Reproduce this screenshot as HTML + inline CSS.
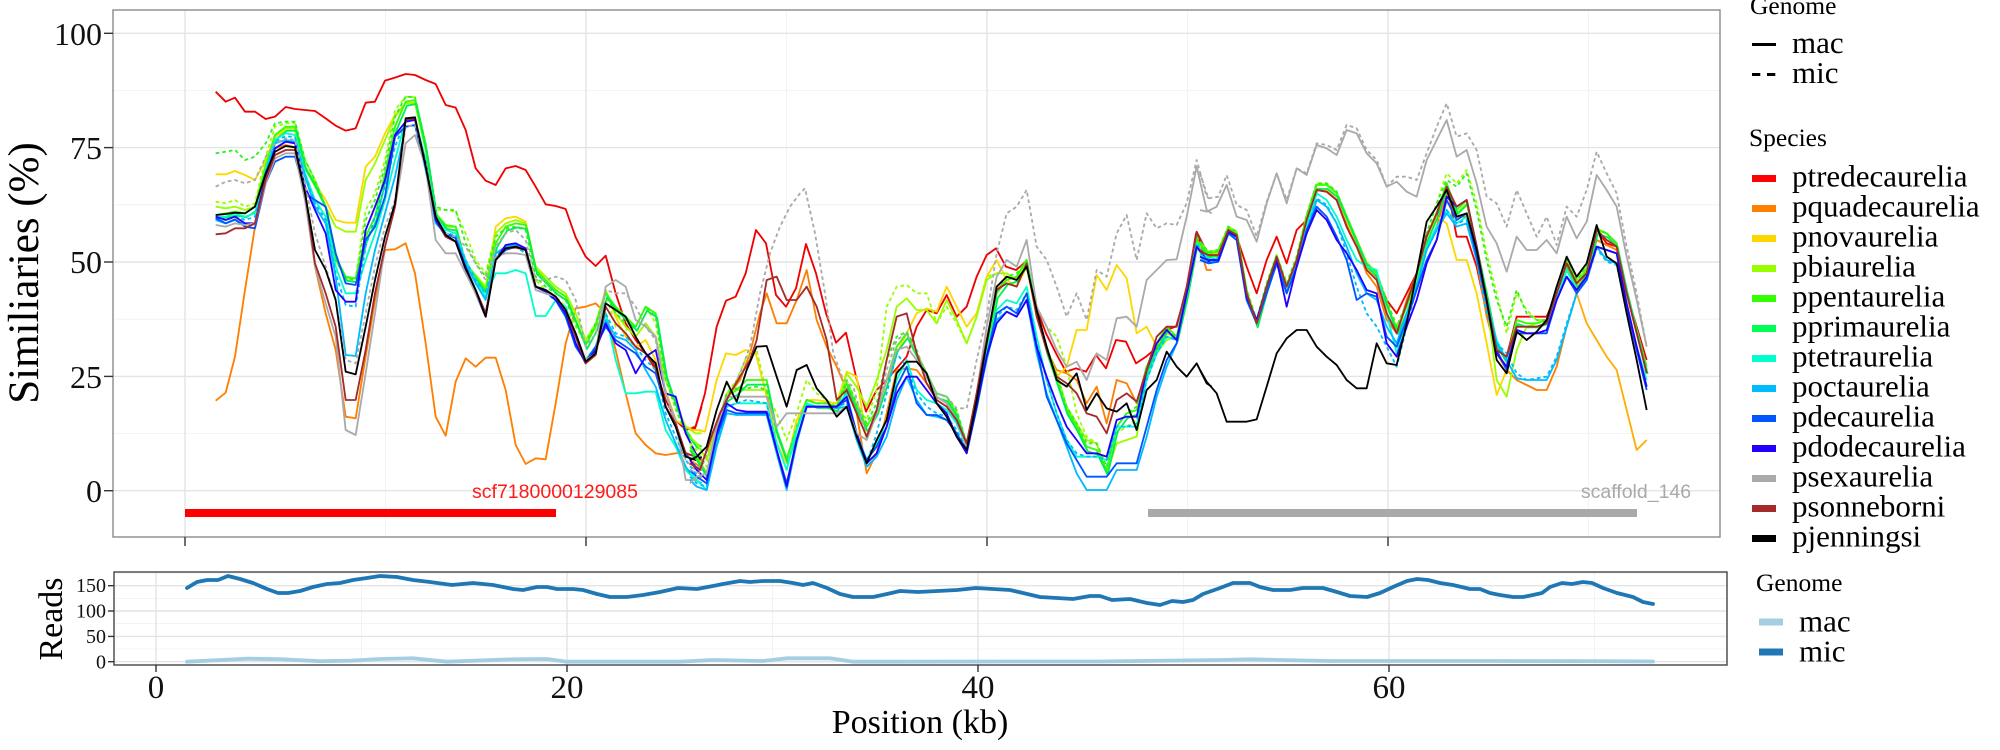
<!DOCTYPE html>
<html><head><meta charset="utf-8">
<style>
html,body{margin:0;padding:0;background:#fff;}
svg{display:block;}
.serif{font-family:"Liberation Serif","DejaVu Serif",serif;}
.sans{font-family:"Liberation Sans","DejaVu Sans",sans-serif;}
</style></head>
<body>
<svg width="2000" height="750" viewBox="0 0 2000 750" xmlns="http://www.w3.org/2000/svg">
<defs>
<clipPath id="cp"><rect x="113" y="10" width="1607" height="527"/></clipPath>
<clipPath id="cp2"><rect x="114" y="572" width="1613" height="93"/></clipPath>
<polyline id="G7" points="107,465 137,460 165,455 195,460 225,440 257,320 285,225 317,200 345,200 375,320 405,370 437,440 467,590 497,650 527,655 557,530 585,470 615,340 645,200 677,125 705,120 737,265 767,460 797,495 827,500 857,610 887,650 917,690 947,550 977,500 1007,490 1037,495 1067,630 1097,660 1127,690 1157,710 1187,780 1217,855 1247,800 1277,700 1307,740 1337,770 1367,800 1397,740 1427,760 1457,940 1487,1030 1517,1110 1547,1150 1565,1160"/>
<polyline id="G8" points="0,1160 20,1190 50,1240 80,1110 110,1010 140,990 170,960 200,960 230,960 260,1110 290,1195 320,1110 350,1020 380,1030 410,1030 440,1040 470,970 500,1040 530,1100 560,1050 590,960 620,860 650,820 680,880 710,940 740,1000 770,1010 800,1060 830,1150 860,1020 890,860 920,700 950,660 980,650 1010,600 1040,760 1070,870 1100,960 1130,1050 1160,1100 1190,1160 1220,1170 1250,1230 1280,1100 1310,1060 1340,1050 1370,920 1400,850 1430,800 1460,830 1490,700 1520,540 1550,580 1565,590"/>
<polyline id="G9" points="0,550 25,580 55,575 85,505 110,520 140,700 170,790 200,680 230,590 260,680 290,600 320,470 350,375 380,375 410,400 440,470 470,540 500,610 530,640 560,730 590,810 620,740 650,650 680,530 710,460 740,370 770,450 800,420 830,560 860,700 890,850 920,900 950,780 980,790 1010,790 1040,780 1070,700 1100,610 1130,670 1160,630 1190,510 1220,520 1250,550 1280,690 1310,810 1340,930"/>
</defs>
<rect x="0" y="0" width="2000" height="750" fill="#fff"/>

<!-- TOP PANEL GRID -->
<g stroke="#f0f0f0" stroke-width="0.8">
<line x1="113" x2="1720" y1="433.5" y2="433.5"/><line x1="113" x2="1720" y1="319.2" y2="319.2"/>
<line x1="113" x2="1720" y1="204.8" y2="204.8"/><line x1="113" x2="1720" y1="90.5" y2="90.5"/>
<line x1="385.5" x2="385.5" y1="10" y2="537"/><line x1="786.5" x2="786.5" y1="10" y2="537"/>
<line x1="1187.5" x2="1187.5" y1="10" y2="537"/><line x1="1588.5" x2="1588.5" y1="10" y2="537"/>
</g>
<g stroke="#e4e4e4" stroke-width="1.4">
<line x1="113" x2="1720" y1="490.7" y2="490.7"/><line x1="113" x2="1720" y1="376.4" y2="376.4"/>
<line x1="113" x2="1720" y1="262" y2="262"/><line x1="113" x2="1720" y1="147.6" y2="147.6"/>
<line x1="113" x2="1720" y1="33.3" y2="33.3"/>
<line x1="185" x2="185" y1="10" y2="537"/><line x1="586" x2="586" y1="10" y2="537"/>
<line x1="987" x2="987" y1="10" y2="537"/><line x1="1388" x2="1388" y1="10" y2="537"/>
</g>

<!-- TOP PANEL DATA -->
<g clip-path="url(#cp)">
<g transform="scale(0.333333)" fill="none" stroke-width="5.5" stroke-linejoin="round">
<!-- zoom7 region -->
<g transform="translate(540,180)">
<polyline stroke="#f00000" points="107,95 137,125 165,113 195,155 225,155 257,177 285,170 317,141 345,147 375,150 405,153 437,175 467,197 497,212 527,205 557,128 585,125 615,62 645,53 677,42 705,45 737,60 767,72 797,135 827,143 857,210 887,325 917,362 947,375 977,325 1007,318 1037,330 1067,380 1097,433 1127,438 1157,447 1187,532 1217,590 1247,618 1277,587 1307,700 1337,790 1367,840 1397,880 1427,930 1457,1020 1487,1080 1517,1110 1547,1100 1565,1040"/>
<polyline stroke="#ff7f00" points="107,1022 137,998 165,890 195,690 225,500 257,345 285,265 317,255 345,262 375,395 405,620 437,760 467,870 497,1070 527,1075 557,890 585,720 615,570 645,568 677,550 705,640 737,850 767,1070 797,1127 827,965 857,895 887,920 917,893 947,893 977,990 1007,1155 1037,1212 1067,1195 1097,1198 1127,1030 1157,850 1187,745 1217,740 1247,730 1277,760 1307,870 1337,1000 1367,1120 1397,1155 1427,1180 1457,1185 1487,1180 1517,1178 1547,1190 1565,1200"/>
<polyline stroke="#ffd700" points="107,343 137,343 165,333 195,345 225,360 257,300 285,230 317,212 345,212 375,320 405,370 437,420 467,480 497,488 527,488 557,320 585,290 615,220 645,165 677,130 705,128 737,265 767,470 797,500 827,500 857,620 887,655 917,695 947,500 977,475 1007,470 1037,485 1067,620 1097,660 1127,690 1157,710 1187,760 1217,840 1247,800 1277,690 1307,770 1337,830 1367,860 1397,840 1427,900 1457,990 1487,1080 1517,1100 1547,1110 1565,1110"/>
<polyline stroke="#99ff00" points="107,440 137,445 165,440 195,450 225,440 257,310 285,225 317,205 345,205 375,320 405,380 437,440 467,500 497,515 527,515 557,360 585,310 615,240 645,170 677,130 705,130 737,270 767,470 797,500 827,500 857,610 887,645 917,680 947,520 977,490 1007,480 1037,490 1067,620 1097,650 1127,680 1157,700 1187,760 1217,840 1247,790 1277,690 1307,760 1337,800 1367,830 1397,790 1427,830 1457,960 1487,1030 1517,1100 1547,1120 1565,1120"/>
<polyline stroke="#99ff00" stroke-dasharray="11 9" points="107,425 137,430 165,420 195,440 225,430 257,290 285,200 317,190 345,190 375,300 405,360 437,440 467,600 497,655 527,655 557,450 585,400 615,300 645,150 677,110 705,112 737,250 767,450 797,450 827,455 857,520 887,600 917,640 947,520 977,510 1007,505 1037,505 1067,660 1097,690 1127,710 1157,740 1187,800 1217,850 1247,790 1277,700 1307,800 1337,810 1367,800 1397,740 1427,790 1457,950 1487,1050 1517,1120 1547,1150 1565,1160"/>
<use href="#G7" stroke="#33ff00"/>
<polyline stroke="#33ee22" stroke-dasharray="11 9" points="107,280 137,275 165,270 195,300 225,290 257,250 285,190 317,185 345,185 375,300 405,360 437,440 467,600 497,655 527,660 557,480 585,420 615,320 645,170 677,110 705,112 737,250 767,440 797,450 827,450 857,550 887,610 917,650 947,530 977,505 1007,500 1037,510 1067,650 1097,680 1127,700 1157,720 1187,790 1217,850 1247,790 1277,700 1307,760 1337,790 1367,800 1397,740 1427,770 1457,960 1487,1040 1517,1120 1547,1150 1565,1160"/>
<use href="#G7" stroke="#00ee55" transform="translate(4,12)"/>
<polyline stroke="#00ffcc" points="107,470 137,470 165,460 195,470 225,460 257,330 285,240 317,220 345,225 375,340 405,420 437,470 467,620 497,700 527,700 557,600 585,520 615,420 645,300 677,180 705,175 737,300 767,470 797,510 827,520 857,600 887,660 917,710 947,640 977,640 1007,630 1037,640 1067,768 1097,768 1127,720 1157,740 1187,830 1217,900 1247,860 1277,760 1307,900 1337,1000 1367,1000 1397,995 1427,995 1457,1110 1487,1160 1517,1230 1547,1260 1565,1270"/>
<polyline stroke="#00bbff" points="107,480 137,490 165,480 195,495 225,490 257,340 285,250 317,240 345,245 375,350 405,440 437,490 467,650 497,885 527,888 557,700 585,570 615,460 645,350 677,200 705,195 737,330 767,490 797,520 827,530 857,610 887,670 917,720 947,580 977,560 1007,555 1037,570 1067,680 1097,695 1127,720 1157,770 1187,850 1217,910 1247,870 1277,780 1307,830 1337,840 1367,870 1397,930 1427,980 1457,1080 1487,1150 1517,1220 1547,1260 1565,1270"/>
<polyline stroke="#00bbff" stroke-dasharray="11 9" points="107,475 137,480 165,470 195,480 225,470 257,335 285,245 317,228 345,232 375,345 405,430 437,480 467,640 497,735 527,740 557,560 585,470 615,380 645,260 677,180 705,178 737,320 767,480 797,520 827,525 857,600 887,660 917,700 947,590 977,560 1007,560 1037,580 1067,690 1097,700 1127,720 1157,760 1187,850 1217,900 1247,860 1277,760 1307,820 1337,830 1367,860 1397,900 1427,930 1457,1060 1487,1130 1517,1200 1547,1240 1565,1250"/>
<polyline stroke="#0055ff" points="107,475 137,490 165,478 195,500 225,505 257,370 285,305 317,290 345,290 375,400 405,420 437,440 467,580 497,670 527,675 557,540 585,500 615,410 645,230 677,200 705,195 737,320 767,480 797,520 827,535 857,620 887,690 917,760 947,600 977,570 1007,560 1037,570 1067,680 1097,690 1127,720 1157,770 1187,860 1217,905 1247,860 1277,800 1307,840 1337,860 1367,880 1397,920 1427,940 1457,1040 1487,1100 1517,1180 1547,1220 1565,1230"/>
<polyline stroke="#2200ff" points="107,470 137,480 165,470 195,490 225,490 257,350 285,265 317,245 345,250 375,380 405,450 437,520 467,690 497,725 527,725 557,510 585,440 615,360 645,225 677,185 705,180 737,310 767,480 797,530 827,545 857,630 887,700 917,770 947,600 977,555 1007,550 1037,565 1067,680 1097,695 1127,720 1157,760 1187,850 1217,910 1247,870 1277,790 1307,850 1337,870 1367,940 1397,890 1427,870 1457,1000 1487,1010 1517,1120 1547,1180 1565,1200"/>
<polyline stroke="#aaaaaa" points="107,495 137,500 165,490 195,495 225,490 257,370 285,295 317,280 345,280 375,420 405,620 437,730 467,830 497,1110 527,1125 557,940 585,760 615,560 645,440 677,250 705,225 737,320 767,540 797,580 827,580 857,640 887,700 917,765 947,590 977,580 1007,580 1037,585 1067,690 1097,700 1127,710 1157,750 1187,820 1217,900 1247,880 1277,680 1307,660 1337,680 1367,780 1397,800 1427,830 1457,1000 1487,1080 1517,1260 1547,1260 1565,1250"/>
<polyline stroke="#aaaaaa" stroke-dasharray="11 9" points="107,380 137,365 165,360 195,370 225,360 257,290 285,250 317,235 345,240 375,370 405,520 437,620 467,720 497,900 527,910 557,760 585,620 615,500 645,420 677,200 705,195 737,310 767,470 797,520 827,530 857,560 887,610 917,660 947,560 977,520 1007,510 1037,540 1067,660 1097,660 1127,650 1157,660 1187,720 1217,860 1247,820 1277,690 1307,700 1337,700 1367,740 1397,800 1427,840 1457,1000 1487,1100 1517,1200 1547,1230 1565,1230"/>
<polyline stroke="#a52a2a" points="107,523 137,520 165,505 195,505 225,490 257,360 285,285 317,270 345,270 375,395 405,610 437,700 467,800 497,1020 527,1020 557,870 585,700 615,560 645,440 677,180 705,175 737,320 767,470 797,530 827,545 857,625 887,690 917,760 947,600 977,565 1007,563 1037,570 1067,680 1097,690 1127,710 1157,750 1187,830 1217,910 1247,885 1277,740 1307,790 1337,820 1367,860 1397,880 1427,920 1457,1040 1487,1090 1517,1180 1547,1190 1565,1200"/>
<polyline stroke="#000000" points="107,465 137,462 165,458 195,460 225,440 257,340 285,275 317,258 345,262 375,400 405,570 437,630 467,720 497,935 527,943 557,800 585,660 615,530 645,430 677,175 705,172 737,320 767,470 797,525 827,545 857,625 887,690 917,770 947,600 977,565 1007,560 1037,570 1067,680 1097,690 1127,710 1157,750 1187,820 1217,905 1247,880 1277,730 1307,750 1337,770 1367,830 1397,880 1427,910 1457,1040 1487,1100 1517,1190 1547,1200 1565,1190"/>
</g>
<!-- zoom8 region -->
<g transform="translate(2070,180)">
<polyline stroke="#f00000" points="0,1110 15,1105 45,1000 80,800 108,722 137,710 167,640 198,510 228,550 258,705 288,740 318,685 348,552 378,640 408,760 438,848 468,818 498,950 528,1055 560,990 590,960 620,925 650,890 680,800 710,750 740,760 770,705 800,770 830,740 860,650 890,585 918,565 948,620 978,630 1008,605 1038,740 1068,820 1098,880 1128,935 1158,925 1188,935 1218,885 1248,925 1278,840 1308,845 1338,910 1368,890 1398,865 1428,810 1458,800 1488,700 1518,520 1548,580 1565,590"/>
<polyline stroke="#ff7f00" points="0,1200 30,1220 60,1150 90,1060 120,1000 150,960 180,880 210,760 230,700 260,790 290,790 320,720 350,630 380,780 410,860 440,920 470,990 500,1060 530,1240 560,1180 590,1060 620,930 650,925 680,930 710,970 740,1010 770,1030 800,1090 830,1160 860,1000 890,840 920,690 950,660 980,650 1010,620 1040,760 1070,870 1100,930 1130,940 1160,960 1190,1030 1220,980 1250,1090 1280,960 1310,970 1340,1030 1370,920 1400,870 1430,820 1460,830 1490,700 1520,530 1550,630 1565,630"/>
<polyline stroke="#ffd700" points="0,1110 20,1110 45,1115 80,960 108,880 137,885 167,870 197,880 215,950 230,1010 260,1150 290,1210 320,1080 350,1020 380,1020 410,1025 440,1030 470,935 500,950 530,1140 560,1060 590,960 620,880 650,820 680,760 710,745 740,755 770,680 800,740 830,800 860,760 890,650 920,600 950,660 980,680 1010,620 1040,770 1070,860 1100,950 1130,920 1160,810 1190,810 1220,645 1250,690 1280,615 1310,655 1340,820 1370,800 1400,860 1430,820 1460,830 1490,700 1520,540 1550,590 1565,600"/>
<polyline stroke="#99ff00" points="0,1130 20,1150 50,1200 80,1100 110,1000 140,990 170,990 200,990 230,990 260,1120 290,1200 320,1100 350,1020 380,1030 410,1030 440,1040 470,940 500,980 530,1040 560,960 590,870 620,740 650,715 680,750 710,750 740,790 770,720 800,780 830,850 860,770 890,660 920,640 950,640 980,660 1010,600 1040,760 1070,870 1100,940 1130,1040 1160,1090 1190,1140 1220,1150 1250,1240 1280,1150 1310,1140 1340,1130 1370,940 1400,880 1430,840 1460,830 1490,700 1520,540 1550,580 1565,590"/>
<polyline stroke="#99ff00" stroke-dasharray="11 9" points="0,1150 20,1170 50,1220 80,1100 110,1000 140,960 170,890 200,870 230,1000 260,1060 290,1140 320,1060 350,960 380,1000 410,1020 440,1040 470,960 500,1030 530,1080 560,990 590,740 620,680 650,675 680,700 710,700 740,790 770,740 800,790 830,850 860,770 890,650 920,640 950,640 980,660 1010,600 1040,740 1070,800 1100,830 1130,920 1160,1060 1190,1130 1220,1150 1250,1220 1280,1120 1310,1100 1340,1080 1370,930 1400,870 1430,830 1460,830 1490,700 1520,540 1550,580 1565,590"/>
<use href="#G8" stroke="#33ff00"/>
<polyline stroke="#33ee22" stroke-dasharray="11 9" points="0,1170 20,1200 50,1240 80,1110 110,1000 140,985 170,985 200,980 230,990 260,1120 290,1200 320,1100 350,1020 380,1030 410,1030 440,1040 470,960 500,1030 530,1090 560,1030 590,900 620,830 650,815 680,870 710,950 740,1000 770,1010 800,1050 830,1150 860,1010 890,850 920,700 950,650 980,640 1010,600 1040,760 1070,860 1100,950 1130,1040 1160,1090 1190,1150 1220,1150 1250,1220 1280,1100 1310,1060 1340,1040 1370,920 1400,860 1430,810 1460,830 1490,700 1520,530 1550,580 1565,590"/>
<use href="#G8" stroke="#00ee55" transform="translate(3,14)"/>
<polyline stroke="#00ffcc" points="0,1240 20,1260 50,1290 80,1150 110,1040 140,1030 170,1030 200,1030 230,1030 260,1150 290,1230 320,1110 350,1030 380,1040 410,1040 440,1040 470,1000 500,1120 530,1200 560,1150 590,1080 620,960 650,900 680,990 710,1020 740,1030 770,1050 800,1090 830,1160 860,1030 890,880 920,750 950,720 980,730 1010,680 1040,830 1070,960 1100,1060 1130,1140 1160,1190 1190,1190 1220,1190 1250,1200 1280,1100 1310,1100 1340,1100 1370,960 1400,880 1430,830 1460,840 1490,700 1520,550 1550,590 1565,600"/>
<polyline stroke="#00bbff" points="0,1260 20,1280 50,1290 80,1160 110,1060 140,1065 170,1065 200,1065 230,1065 260,1180 290,1290 320,1150 350,1040 380,1040 410,1040 440,1045 470,1040 500,1140 530,1220 560,1190 590,1130 620,1020 650,950 680,1020 710,1065 740,1070 770,1080 800,1120 830,1180 860,1040 890,900 920,780 950,755 980,770 1010,720 1040,880 1070,1000 1100,1080 1130,1160 1160,1240 1190,1290 1220,1290 1250,1290 1280,1230 1310,1230 1340,1230 1370,1130 1400,1010 1430,920 1460,850 1490,700 1520,560 1550,600 1565,610"/>
<polyline stroke="#00bbff" stroke-dasharray="11 9" points="0,1250 20,1270 50,1280 80,1150 110,1040 140,1030 170,1020 200,1025 230,1030 260,1170 290,1280 320,1140 350,1040 380,1040 410,1040 440,1040 470,1030 500,1130 530,1210 560,1120 590,1000 620,880 650,920 680,1000 710,1040 740,1060 770,1070 800,1110 830,1170 860,1030 890,890 920,770 950,740 980,750 1010,700 1040,850 1070,960 1100,1060 1130,1140 1160,1180 1190,1190 1220,1190 1250,1200 1280,1100 1310,1100 1340,1090 1370,960 1400,880 1430,830 1460,840 1490,700 1520,550 1550,600 1565,600"/>
<polyline stroke="#0055ff" points="0,1230 20,1250 50,1270 80,1130 110,1050 140,1060 170,1060 200,1060 230,1060 260,1170 290,1270 320,1140 350,1040 380,1040 410,1040 440,1040 470,1020 500,1130 530,1200 560,1160 590,1100 620,980 650,920 680,1030 710,1065 740,1065 770,1080 800,1120 830,1170 860,1030 890,890 920,760 950,740 980,760 1010,700 1040,860 1070,1010 1100,1080 1130,1150 1160,1200 1190,1250 1220,1250 1250,1250 1280,1210 1310,1210 1340,1210 1370,1100 1400,990 1430,900 1460,850 1490,700 1520,560 1550,600 1565,610"/>
<polyline stroke="#2200ff" points="0,1200 20,1230 50,1260 80,1120 110,1030 140,1050 170,1055 200,1055 230,1055 260,1170 290,1280 320,1140 350,1040 380,1040 410,1040 440,1040 470,1010 500,1120 530,1210 560,1180 590,1100 620,1000 650,950 680,950 710,990 740,1030 770,1060 800,1130 830,1180 860,1040 890,890 920,790 950,755 980,770 1010,720 1040,860 1070,950 1100,1030 1130,1100 1160,1140 1190,1180 1220,1180 1250,1190 1280,1080 1310,1070 1340,1070 1370,930 1400,850 1430,810 1460,840 1490,700 1520,560 1550,600 1565,610"/>
<polyline stroke="#aaaaaa" points="0,1270 20,1250 50,1240 80,1100 110,1010 140,1010 170,1010 200,1010 230,1010 260,1100 290,1060 320,1060 350,1060 380,1060 410,1060 440,1060 470,1040 500,1120 530,1140 560,1060 590,960 620,870 650,860 680,900 710,950 740,1010 770,1030 800,1080 830,1160 860,1000 890,800 920,650 950,600 980,620 1010,540 1040,740 1070,800 1100,870 1130,920 1160,905 1190,960 1220,880 1250,900 1280,775 1310,770 1340,800 1370,660 1400,630 1430,600 1460,598 1490,470 1520,320 1550,450 1565,460"/>
<polyline stroke="#aaaaaa" stroke-dasharray="11 9" points="0,1230 30,1240 60,1150 90,1060 120,1000 150,940 180,860 210,700 240,580 270,500 300,440 330,400 345,385 375,520 405,700 430,880 460,960 490,980 530,1130 560,1050 590,930 620,840 650,820 680,880 710,940 740,1000 770,1010 800,1045 830,1045 860,900 890,770 920,580 950,460 980,440 1010,390 1040,560 1070,600 1100,680 1130,770 1160,700 1190,780 1220,630 1250,650 1280,520 1310,465 1340,600 1370,460 1400,505 1430,490 1460,495 1490,430 1520,300 1550,410 1565,420"/>
<polyline stroke="#a52a2a" points="0,1210 30,1230 60,1140 90,1060 120,1000 150,950 180,900 200,840 230,660 260,650 290,720 320,720 350,680 380,740 410,840 440,1020 470,990 500,1060 530,1130 560,1050 590,900 620,770 650,760 680,880 710,970 740,1020 770,1040 800,1080 830,1150 860,1000 890,840 920,690 950,670 980,680 1010,610 1040,770 1070,870 1100,950 1130,970 1160,1000 1190,1060 1220,1070 1250,1120 1280,1020 1310,1000 1340,1025 1370,930 1400,830 1430,800 1460,800 1490,680 1520,515 1550,575 1565,585"/>
<polyline stroke="#000000" points="0,1200 20,1190 50,1160 80,1050 110,965 140,1025 170,930 200,860 230,858 260,950 290,1040 320,930 350,915 380,985 410,1020 440,1070 470,1040 500,1130 530,1210 560,1140 590,1080 620,940 650,905 680,905 710,940 740,1030 770,1070 800,1130 830,1170 860,1020 890,850 920,680 950,650 980,660 1010,620 1040,750 1070,860 1100,960 1130,980 1160,940 1190,1050 1220,1000 1250,1045 1280,1055 1310,1030 1340,1110 1370,990 1400,960 1430,875 1460,920 1490,950 1520,910 1550,970 1565,980"/>
</g>
<!-- zoom9 region -->
<g transform="translate(3600,180)">
<polyline stroke="#f00000" points="0,570 25,585 55,590 85,520 110,530 140,620 170,700 200,600 230,530 260,610 290,510 320,480 350,390 380,395 410,420 440,500 470,560 500,620 530,650 560,720 590,760 620,700 650,640 680,520 710,480 740,370 770,530 800,530 830,620 860,760 890,870 920,890 950,770 980,770 1010,770 1040,770 1070,700 1100,600 1130,680 1160,640 1190,510 1220,550 1250,560 1280,700 1310,800 1340,900"/>
<polyline stroke="#ff7f00" points="0,600 25,600 55,600 85,520 110,530 140,700 170,790 200,680 230,590 260,680 290,600 320,470 350,385 380,390 410,420 440,490 470,560 500,640 530,680 560,780 590,820 620,720 650,640 680,560 710,500 740,400 770,470 800,470 830,600 860,770 890,880 920,930 950,960 980,975 1010,990 1040,990 1070,920 1100,800 1130,700 1160,640 1190,540 1220,555 1250,570 1280,690 1310,810 1340,920"/>
<polyline stroke="#ffd700" points="0,560 25,585 55,580 85,505 110,525 140,700 170,790 200,680 230,590 260,680 290,600 320,470 350,385 380,390 410,420 440,480 470,560 500,620 530,660 560,740 590,800 620,740 650,650 680,530 710,470 740,490 770,600 800,600 830,700 860,850 890,1005 920,930 950,800 980,800 1010,800 1040,790 1070,700 1100,620 1130,680 1160,640 1190,510 1220,540 1250,560 1280,700 1310,820 1340,930"/>
<polyline stroke="#ffae00" points="1070,690 1100,615 1130,700 1160,790 1190,840 1220,890 1250,930 1280,1050 1310,1170 1340,1140"/>
<polyline stroke="#99ff00" points="0,545 25,575 55,570 85,500 110,515 140,690 170,785 200,675 230,585 260,675 290,595 320,465 350,372 380,372 410,398 440,468 470,538 500,608 530,638 560,728 590,808 620,738 650,648 680,528 710,458 740,390 770,460 800,430 830,570 860,720 890,960 920,1010 950,870 980,800 1010,790 1040,780 1070,700 1100,610 1130,670 1160,630 1190,508 1220,520 1250,550 1280,690 1310,810 1340,930"/>
<polyline stroke="#99ff00" stroke-dasharray="11 9" points="0,545 25,575 55,570 85,500 110,515 140,690 170,780 200,670 230,585 260,670 290,590 320,465 350,370 380,370 410,395 440,470 470,540 500,610 530,640 560,720 590,800 620,730 650,640 680,520 710,430 740,340 770,370 800,330 830,430 860,580 890,700 920,820 950,700 980,750 1010,780 1040,780 1070,700 1100,600 1130,660 1160,620 1190,505 1220,520 1250,550 1280,690 1310,810 1340,920"/>
<use href="#G9" stroke="#33ff00"/>
<polyline stroke="#33ee22" stroke-dasharray="11 9" points="0,545 25,575 55,570 85,500 110,515 140,690 170,780 200,670 230,585 260,670 290,590 320,465 350,370 380,370 410,395 440,470 470,540 500,610 530,640 560,720 590,800 620,730 650,640 680,520 710,430 740,360 770,380 800,340 830,450 860,600 890,720 920,800 950,690 980,760 1010,780 1040,780 1070,700 1100,600 1130,660 1160,620 1190,505 1220,520 1250,550 1280,690 1310,810 1340,920"/>
<use href="#G9" stroke="#00ee55" transform="translate(3,12)"/>
<polyline stroke="#00ffcc" points="0,585 25,600 55,595 85,515 110,530 140,710 170,780 200,690 230,600 260,690 290,610 320,500 350,400 380,420 410,470 440,540 470,600 500,620 530,630 560,760 590,880 620,780 650,680 680,560 710,500 740,450 770,490 800,470 830,570 860,720 890,840 920,900 950,800 980,800 1010,800 1040,790 1070,710 1100,630 1130,690 1160,650 1190,560 1220,600 1250,610 1280,740 1310,860 1340,960"/>
<polyline stroke="#00bbff" points="0,590 25,610 55,600 85,520 110,540 140,720 170,790 200,700 230,610 260,700 290,620 320,520 350,420 380,440 410,490 440,560 470,640 500,700 530,720 560,800 590,850 620,760 650,680 680,570 710,510 740,460 770,500 800,490 830,600 860,720 890,850 920,900 950,955 980,960 1010,960 1040,960 1070,900 1100,800 1130,700 1160,660 1190,560 1220,600 1250,610 1280,740 1310,860 1340,980"/>
<polyline stroke="#00bbff" stroke-dasharray="11 9" points="0,580 25,600 55,595 85,515 110,535 140,715 170,785 200,695 230,605 260,695 290,615 320,515 350,415 380,435 410,490 440,580 470,680 500,760 530,800 560,860 590,920 620,800 650,680 680,570 710,510 740,450 770,490 800,480 830,600 860,760 890,850 920,880 950,940 980,960 1010,955 1040,950 1070,890 1100,790 1130,700 1160,660 1190,565 1220,605 1250,615 1280,745 1310,860 1340,980"/>
<polyline stroke="#0055ff" points="0,600 25,610 55,605 85,520 110,540 140,720 170,790 200,700 230,610 260,700 290,620 320,510 350,440 380,470 410,530 440,600 470,720 500,700 530,710 560,830 590,860 620,780 650,690 680,600 710,540 740,420 770,480 800,460 830,590 860,730 890,870 920,930 950,820 980,820 1010,820 1040,820 1070,720 1100,650 1130,700 1160,660 1190,560 1220,570 1250,580 1280,740 1310,870 1340,990"/>
<polyline stroke="#2200ff" points="0,590 25,600 55,600 85,515 110,530 140,710 170,780 200,680 230,600 260,740 290,620 320,520 350,450 380,480 410,540 440,580 470,630 500,690 530,700 560,850 590,890 620,800 650,720 680,610 710,540 740,410 770,440 800,420 830,560 860,720 890,880 920,920 950,810 980,820 1010,820 1040,810 1070,720 1100,650 1130,690 1160,650 1190,560 1220,570 1250,580 1280,730 1310,860 1340,980"/>
<polyline stroke="#aaaaaa" points="0,450 20,455 50,440 80,375 110,470 140,480 170,545 200,430 230,340 260,430 290,325 320,345 350,255 380,265 410,285 440,210 470,220 500,280 530,310 560,380 590,365 620,395 650,410 680,300 710,240 740,180 770,290 800,270 830,370 860,500 890,550 920,635 950,530 980,570 1010,570 1040,540 1070,580 1100,470 1130,535 1160,485 1190,345 1220,390 1250,440 1280,590 1310,720 1340,860"/>
<polyline stroke="#aaaaaa" stroke-dasharray="11 9" points="0,340 25,415 55,410 80,345 110,435 140,450 170,530 200,425 230,340 260,420 290,325 320,340 350,250 380,255 410,270 440,195 470,205 500,270 530,300 560,380 590,350 620,350 650,360 680,280 710,200 740,130 770,230 800,220 830,270 860,410 890,430 920,500 950,390 980,460 1010,530 1040,470 1070,555 1100,440 1130,470 1160,390 1190,275 1220,340 1250,400 1280,560 1310,700 1340,860"/>
<polyline stroke="#a52a2a" points="0,575 25,585 55,585 85,510 110,525 140,700 170,790 200,680 230,590 260,680 290,600 320,480 350,390 380,395 410,420 440,500 470,560 500,630 530,660 560,760 590,820 620,730 650,640 680,530 710,460 740,380 770,440 800,420 830,560 860,720 890,870 920,890 950,800 980,800 1010,800 1040,790 1070,700 1100,610 1130,670 1160,640 1190,510 1220,540 1250,560 1280,700 1310,820 1340,940"/>
<polyline stroke="#000000" points="0,930 20,965 50,1000 80,1085 110,1085 140,1085 170,1078 200,980 230,880 260,835 290,810 320,810 350,860 380,890 410,915 440,960 470,985 500,985 530,850 560,910 590,915 620,790 650,640 680,485 710,440 740,390 770,470 800,460 830,570 860,720 890,900 920,940 950,815 980,840 1010,815 1040,780 1070,680 1100,590 1130,650 1160,610 1190,495 1220,590 1250,610 1280,760 1310,900 1340,1050"/>
</g>
</g>
</g>

<!-- annotations -->
<rect x="185" y="509" width="371" height="8" fill="#ff0000"/>
<rect x="1148" y="509" width="489" height="8" fill="#a9a9a9"/>
<text class="sans" x="555" y="498" font-size="19.5" fill="#ff1a1a" text-anchor="middle">scf7180000129085</text>
<text class="sans" x="1636" y="498" font-size="19.5" fill="#a9a9a9" text-anchor="middle">scaffold_146</text>

<!-- top panel border and ticks -->
<rect x="113" y="10" width="1607" height="527" fill="none" stroke="#8a8a8a" stroke-width="1.4"/>
<g stroke="#333" stroke-width="1.4">
<line x1="104" x2="113" y1="490.7" y2="490.7"/><line x1="104" x2="113" y1="376.4" y2="376.4"/>
<line x1="104" x2="113" y1="262" y2="262"/><line x1="104" x2="113" y1="147.6" y2="147.6"/>
<line x1="104" x2="113" y1="33.3" y2="33.3"/>
<line x1="185" x2="185" y1="537" y2="546"/><line x1="586" x2="586" y1="537" y2="546"/>
<line x1="987" x2="987" y1="537" y2="546"/><line x1="1388" x2="1388" y1="537" y2="546"/>
</g>
<g class="serif" font-size="32" fill="#111" text-anchor="end">
<text x="102" y="45">100</text><text x="102" y="159">75</text><text x="102" y="273">50</text>
<text x="102" y="388">25</text><text x="102" y="502">0</text>
</g>
<text class="serif" font-size="43" fill="#000" text-anchor="middle" transform="translate(38,273) rotate(-90)">Similiaries (%)</text>

<!-- BOTTOM PANEL -->
<g stroke="#f0f0f0" stroke-width="0.8">
<line x1="114" x2="1727" y1="649" y2="649"/><line x1="114" x2="1727" y1="623.7" y2="623.7"/>
<line x1="114" x2="1727" y1="598.4" y2="598.4"/><line x1="114" x2="1727" y1="573.5" y2="573.5"/>
<line x1="361.5" x2="361.5" y1="572" y2="665"/><line x1="772.5" x2="772.5" y1="572" y2="665"/>
<line x1="1183.5" x2="1183.5" y1="572" y2="665"/><line x1="1594.5" x2="1594.5" y1="572" y2="665"/>
</g>
<g stroke="#e4e4e4" stroke-width="1.4">
<line x1="114" x2="1727" y1="661.7" y2="661.7"/><line x1="114" x2="1727" y1="636.4" y2="636.4"/>
<line x1="114" x2="1727" y1="611" y2="611"/><line x1="114" x2="1727" y1="585.7" y2="585.7"/>
<line x1="156" x2="156" y1="572" y2="665"/><line x1="567" x2="567" y1="572" y2="665"/>
<line x1="978" x2="978" y1="572" y2="665"/><line x1="1389" x2="1389" y1="572" y2="665"/>
</g>
<g clip-path="url(#cp2)" fill="none" stroke-width="3.8" stroke-linejoin="round" stroke-linecap="round">
<polyline stroke="#a6cee3" points="187,661.7 218,660.2 248,658.7 279,659.2 320,661.2 351,660.7 380,659 413,658.3 447,661.7 513,659.3 547,659 567,661.7 680,661.7 713,660 763,661 787,658.3 830,658.3 853,661.7 900,661.7 1000,661.5 1100,661.5 1220,660 1250,659.3 1280,660 1330,661 1400,661 1500,661 1600,661.2 1653,661.5"/>
<polyline stroke="#1f78b4" points="187,588 197,582 207,580 218,580 228,576 240,579 253,583 267,589 278,593 288,593 300,591 313,587 327,584 340,583 353,580 367,578 380,576 397,577 413,580 430,582 452,585 473,583 493,585 513,589 523,590 537,587 547,587 557,589 573,589 583,590 597,594 610,597 627,597 643,595 660,592 678,588 697,589 713,586 723,584 740,581 750,582 763,581 780,581 793,583 803,585 813,583 827,588 840,594 853,597 873,597 887,594 900,591 918,592 938,591 957,590 976,588 993,589 1010,590 1023,593 1040,597 1057,598 1073,599 1090,596 1100,596 1112,600 1130,599 1147,603 1160,605 1172,601 1183,602 1193,600 1203,594 1220,588 1233,583 1250,583 1260,587 1273,590 1290,590 1303,588 1323,588 1337,592 1350,596 1367,597 1380,593 1393,587 1407,581 1417,579 1428,580 1440,583 1453,585 1470,589 1480,589 1490,593 1500,595 1513,597 1523,597 1533,595 1542,593 1550,587 1562,583 1572,584 1583,582 1592,583 1603,588 1617,593 1625,595 1633,597 1643,602 1653,604"/>
</g>
<rect x="114" y="572" width="1613" height="93" fill="none" stroke="#444" stroke-width="1.4"/>
<g stroke="#333" stroke-width="1.4">
<line x1="108" x2="114" y1="661.7" y2="661.7"/><line x1="108" x2="114" y1="636.4" y2="636.4"/>
<line x1="108" x2="114" y1="611" y2="611"/><line x1="108" x2="114" y1="585.7" y2="585.7"/>
<line x1="156" x2="156" y1="665" y2="672"/><line x1="567" x2="567" y1="665" y2="672"/>
<line x1="978" x2="978" y1="665" y2="672"/><line x1="1389" x2="1389" y1="665" y2="672"/>
</g>
<g class="serif" font-size="20" fill="#111" text-anchor="end">
<text x="106" y="592">150</text><text x="106" y="617.5">100</text><text x="106" y="643">50</text><text x="106" y="668.5">0</text>
</g>
<g class="serif" font-size="33" fill="#111" text-anchor="middle">
<text x="156" y="698">0</text><text x="567" y="698">20</text><text x="978" y="698">40</text><text x="1389" y="698">60</text>
</g>
<text class="serif" x="920" y="733" font-size="34" fill="#000" text-anchor="middle">Position (kb)</text>
<text class="serif" font-size="34" fill="#000" text-anchor="middle" transform="translate(62,619) rotate(-90)">Reads</text>

<!-- LEGENDS -->
<g class="serif" fill="#000">
<text x="1750" y="14" font-size="25.5">Genome</text>
<line x1="1752" x2="1776" y1="44.5" y2="44.5" stroke="#000" stroke-width="3"/>
<line x1="1752" x2="1776" y1="74.5" y2="74.5" stroke="#000" stroke-width="3" stroke-dasharray="8.3 6.7"/>
<text x="1792" y="53" font-size="31">mac</text>
<text x="1792" y="83" font-size="31">mic</text>

<text x="1749" y="146" font-size="25.5">Species</text>
<g font-size="31">
<rect x="1752" y="175" width="24" height="7" fill="#ff0000"/><text x="1792" y="186.5">ptredecaurelia</text>
<rect x="1752" y="205" width="24" height="7" fill="#ff7f00"/><text x="1792" y="216.5">pquadecaurelia</text>
<rect x="1752" y="235" width="24" height="7" fill="#ffd700"/><text x="1792" y="246.5">pnovaurelia</text>
<rect x="1752" y="265" width="24" height="7" fill="#99ff00"/><text x="1792" y="276.5">pbiaurelia</text>
<rect x="1752" y="295" width="24" height="7" fill="#33ff00"/><text x="1792" y="306.5">ppentaurelia</text>
<rect x="1752" y="325" width="24" height="7" fill="#00ff55"/><text x="1792" y="336.5">pprimaurelia</text>
<rect x="1752" y="355" width="24" height="7" fill="#00ffcc"/><text x="1792" y="366.5">ptetraurelia</text>
<rect x="1752" y="385" width="24" height="7" fill="#00bbff"/><text x="1792" y="396.5">poctaurelia</text>
<rect x="1752" y="415" width="24" height="7" fill="#0055ff"/><text x="1792" y="426.5">pdecaurelia</text>
<rect x="1752" y="445" width="24" height="7" fill="#2200ff"/><text x="1792" y="456.5">pdodecaurelia</text>
<rect x="1752" y="475" width="24" height="7" fill="#aaaaaa"/><text x="1792" y="486.5">psexaurelia</text>
<rect x="1752" y="505" width="24" height="7" fill="#a52a2a"/><text x="1792" y="516.5">psonneborni</text>
<rect x="1752" y="535" width="24" height="7" fill="#000000"/><text x="1792" y="546.5">pjenningsi</text>
</g>

<text x="1756" y="591" font-size="25.5">Genome</text>
<rect x="1759" y="618.5" width="24" height="7" fill="#a6cee3"/>
<rect x="1759" y="648.5" width="24" height="7" fill="#1f78b4"/>
<text x="1799" y="631.5" font-size="31">mac</text>
<text x="1799" y="661.5" font-size="31">mic</text>
</g>
</svg>
</body></html>
